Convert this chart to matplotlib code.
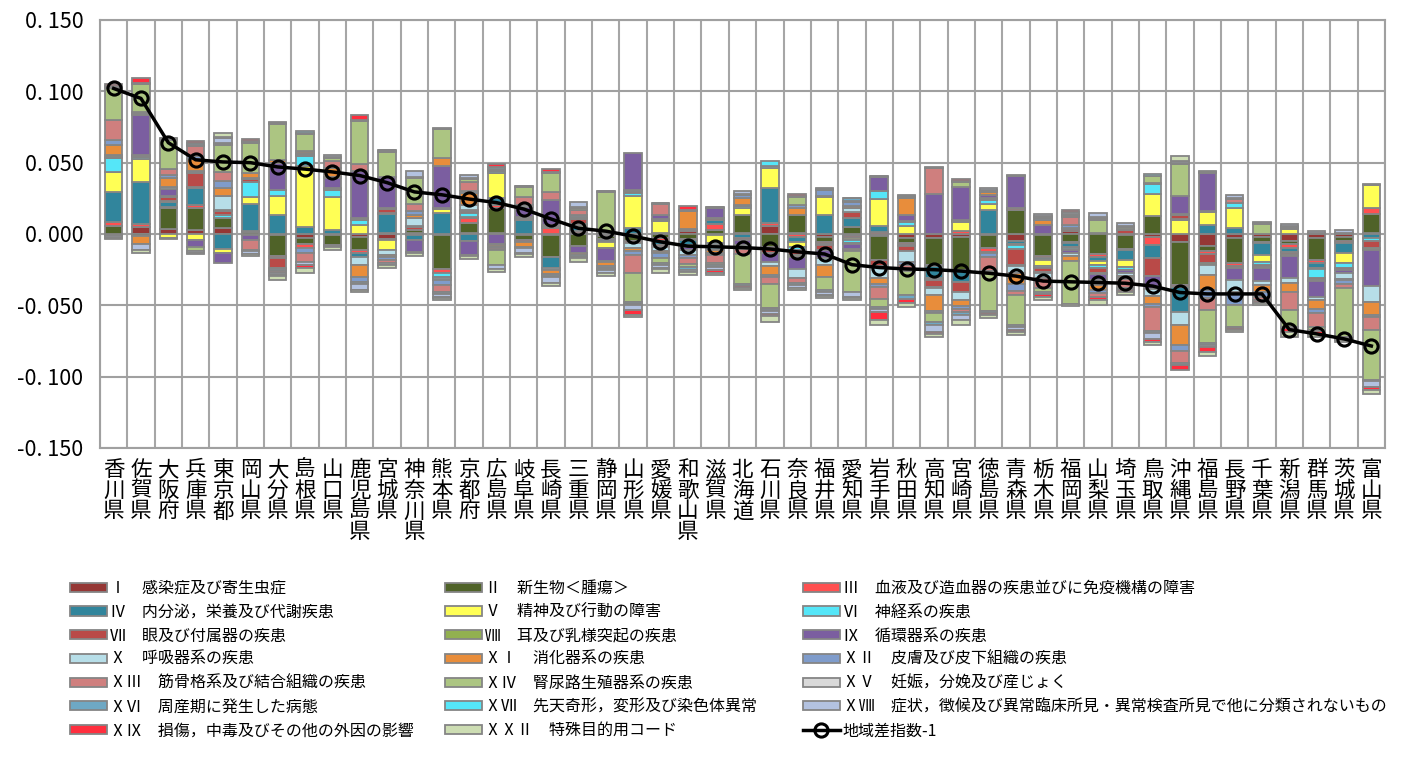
import numpy as np
import matplotlib.pyplot as plt
from matplotlib.ticker import FuncFormatter

plt.rcParams['font.family'] = ['Noto Sans CJK JP', 'DejaVu Sans']

prefs = ['香川県', '佐賀県', '大阪府', '兵庫県', '東京都', '岡山県', '大分県', '島根県',
         '山口県', '鹿児島県', '宮城県', '神奈川県', '熊本県', '京都府', '広島県', '岐阜県',
         '長崎県', '三重県', '静岡県', '山形県', '愛媛県', '和歌山県', '滋賀県', '北海道',
         '石川県', '奈良県', '福井県', '愛知県', '岩手県', '秋田県', '高知県', '宮崎県',
         '徳島県', '青森県', '栃木県', '福岡県', '山梨県', '埼玉県', '鳥取県', '沖縄県',
         '福島県', '長野県', '千葉県', '新潟県', '群馬県', '茨城県', '富山県']

# 地域差指数-1 (x 0.001)
index_m1 = [102, 95, 64, 52, 50.5, 50, 47, 45.5, 43.5, 41, 36, 29.5, 27.5, 24.5, 22, 17.5,
            10.5, 4, 2, -1.5, -5.5, -8.5, -9, -9.5, -10.5, -12.5, -14, -21.5, -23.5, -24.5,
            -25, -26, -27.5, -29.5, -33, -33.5, -34, -34.5, -36.5, -41, -42, -42, -42,
            -67, -70, -73.5, -78.5]

# contributions by disease chapter (x 0.001)
c01 = [-0.5, 4.7, 3.5, 3, 4.5, -1, -1, -3, -1, -2, -3.5, 0.5, -1, 0.5, 0.5, -1, -1, 1, -1.5, -1,
       0.5, 2, -1, 1, 5.5, 0.5, -2, -1.5, -1.5, -3, -2.5, -2, -1, -5, -1, 2, 1, -1, -2, -5.5,
       -8.5, -3, -2, -5, -3, -2, 1]
c02 = [5.3, -1.5, 15, 15, 6.5, 1.5, -14.5, -4, -7, -9, 1, 2, -23.5, 7, 18, -3.5, -15, -8.5, -2,
       -4, -3, -3.5, 3, 12, -9, 13, -3.5, 5, -17, -3.5, -19, -23, -8.5, 17, -14.5, -5.5, -14,
       -9.5, 12.5, -30, -3.5, -17.5, -3.5, -2, -15, -3, 13]
c03 = [3, 2.5, 0.7, 2.2, 0.5, 0.5, -1, -3, -0.5, -2.5, -1, -1, -3, 4, 2, -1, 4.5, 1, -0.5, -1,
       -2, -1, 4, 0.5, 2.5, -2, -1.5, -1, 1.5, -1, -1, 2, -3, 1.5, -1, -1, -2, -1, -6, -1.5,
       -2, -2, -1, -3, -2, -1, 4.5]
c04 = [21, 29, 3.5, 12, -10.5, 19, 13, 5, 2.5, -2.5, 13, -3, 15, -5, 5, 10, -8, 3, -1.5, 4,
       -2.5, -3, 2.5, -3, 24, -3.5, 13.5, 6, 4, -1, -8, -8.5, 16.5, -2, -2, -2.5, -3, -6.5,
       -8.5, -18, 6.5, 4, -8, -2.5, -3.5, -7.5, -3]
c05 = [14.5, 16.5, -2.5, -4, -2.5, 5, 13.5, 42.5, 23.5, 6, -6.5, -0.5, 2.5, 0.5, 17.5, 0.5,
       0.5, 1, -4, 22.5, 8.5, -1, -5.5, 5, 14.5, -3.5, 12.5, -1.5, 19, 5.5, -1, 6.5, 4.5, -1,
       -4, -1, -3, -5, 15.5, 10, 9, 14, -5, 3.5, -1, -7, 15.5]
c06 = [9.3, 1, 0.5, 0.8, 2, 10.5, 4, 7, 5, 4, 0.5, 0.5, -2.5, 3, 1, 0.5, 0.5, 1, -0.3, 2, 0.5,
       -0.5, -1, 1, 1.5, -2, -1, -2.5, 5.5, 3, -1, 0.5, 2.5, -2.5, -1.5, -1.5, -2, -2.5, 7,
       0.5, 0.5, 4, -2, -1, -6, -3, -2]
c07 = [1, 1, 3, 10, 2.5, 2, -7, 0.5, 0.5, 0.5, 3, 2, -1, 1, 0.5, 0.5, 0.5, 3.5, -0.3, 1.5,
       -1.5, 1, 1.5, -1, -4, -4, -3.5, 4.5, -4, -3.5, -4.5, -7, 1, -11.5, -2.5, 1.5, -3.5, 2.5,
       -13, 3, -6.5, -1, -1.5, -1.5, -2, -1.5, -5]
c08 = [1, 0.5, 0.5, 0.5, 0.5, 0.5, 0.5, 0.5, 0.5, 0.5, 0.5, 0.5, 0.5, 0.5, 0.5, 0.5, 0.5, 0.5,
       0.5, 0.5, 1, 0.5, 0.5, 0.5, -0.5, -1, 0.5, -0.5, -0.5, 0.5, -0.5, 0.5, 0.5, -0.5, -0.5,
       0.5, -0.5, 1, 1, 0.5, -1.5, -0.5, -0.5, -0.5, -0.5, -0.5, -1]
c09 = [0.5, 28, 5, -5, -7, -3, 19, 0.5, 7.5, 33, 22, -8, 30, -9.5, -7, 7, 17, -5, -9, 26, 3,
       -2, 7, -3.5, -6, -8.5, -5, -3.5, 10, 4, 28, 23.5, 2.5, 22, 6, -2, -4, -2, -9, 12.5, 27,
       -8.5, -9.5, -15.5, -11.5, -2, -25.5]
c10 = [-1, 0.7, 1.5, 0.5, 10, -0.5, -1, 0.5, 0.5, -6, -4, 6, -1.5, 4, -0.5, 1, -1, 1, -0.5, -4,
       -3, -4, -4, -3, -3, -6, -5, 3, -8, -7.5, -5, -5.5, -1, -4.5, -3.5, -2, -4, -2, -5, -9,
       -6.5, -8.5, -2.5, -3.5, -1.5, -4, -11]
c11 = [6.5, -5.5, 6, 8.5, 6, 3.5, 2, 1.5, 6, -8, -1, 2, 5.5, 8, -1.5, -3.5, -3, -1.5, -2.5, -2,
       -1.5, 12.5, -2, 5, -6.5, 5, -8.5, 1, -4, 12.5, -11.5, -4.5, 2, -8, 4, -3.5, -3.5, -1,
       -5.5, -14, -10.5, -1, -5.5, -6, -6.5, -1, -9.5]
c12 = [3.5, 0.7, 2, 2, 5, 0.5, -1.5, -3, 0.5, -3.5, -2.5, 2.5, -3.5, 1.5, -0.5, 0.5, -1, 1, -2,
       -2.5, -3.5, -2, -1, 2.5, -1, 2, 4, 3, -2, -2.5, -1.5, -2, -2.5, -5, 1.5, 2, -2, -1, -2.5,
       -4, -6, -8, -3, 1, -3, -2.5, -1.5]
c13 = [14, 1, 4.5, 7, 6, -6.5, -1, -6.5, 5, 5, -2, 5, -5, 6.5, -1.5, 5.5, 6, 3.5, -0.5, -13,
       7.5, -4, -5.5, -3.5, -5, -4, 0.5, -1.5, -8.5, -4, 18, -2, -10, -2.5, -7, 6, -3, -6,
       -16.5, -8.5, -8.5, 2.5, -2, -12.5, -9.5, -3, -9]
c14 = [23, 19.5, 20, -3, 19, 21, 25, 12, 1.5, 30, 17.5, 18, 20, 2, -11, 7, 13.5, 2, 29, -20,
       -3, -2, -2, -21, -17, 5.5, -9, -28.5, -6, -17, -6, 3.5, -28, -21, -3, -30, 9, 1.5, 4.5,
       22.5, -23, -15, 7, -12, -2, -34, -34.5]
c15 = [0.2, 0.3, 0.2, 1, 0.5, 0.5, 0.5, 0.5, 0.3, 0.3, 0.3, 0.3, 0.3, 0.3, 0.3, 0.3, 0.3, 0.3,
       0.3, -0.5, 0.5, 0.3, 0.3, 0.3, -0.5, 0.5, 0.5, 0.5, 0.5, 0.5, 0.5, 0.5, 0.5, 0.5, 0.5,
       0.5, 0.5, 0.3, 0.5, 0.5, 0.5, 0.5, 0.5, 0.5, 0.5, 0.5, 0.5]
c16 = [0.3, 0.3, 0.3, 1, 0.5, -1, 0.5, 0.5, 0.5, -1.5, 0.5, 0.5, -1, 0.5, 0.5, -1, -1, -1, -0.5,
       -1, -1.5, -2, -1, -1.5, -1.5, -1.5, -1.5, 2, -1, -2.5, -2, -2, -1.5, -2, -1.5, 1, 1,
       -1.5, -1.5, -1.5, -1.5, -1, -1, -1, -1, -1, -1]
c17 = [0.3, 0.3, 0.3, 0.5, 0.5, 0.5, 0.5, 1.5, 0.3, 0.3, 0.3, 0.3, 0.3, 0.3, 1, 0.3, 0.3, 0.3,
       0.3, -0.5, 0.5, 0.3, 0.3, 0.3, 3, 0.3, 0.5, 0.5, 0.5, 0.5, 0.5, 0.3, 0.5, 0.5, 0.5, 0.5,
       0.5, 0.3, 1, 0.5, 0.5, 0.5, 0.3, 0.5, 0.5, 0.5, 0.5]
c18 = [-1, -4.5, 0.5, -1, 3.5, -2, -1.5, -2, 1, -4.5, -1.5, 4, -2, 1.5, -2.5, -3, -4, 3.5, -2,
       -3.5, -2, -1.5, -2.5, 2, -2, -2, -2, -3.5, -2.5, 1, -5.5, -4, 1.5, -1.5, 1.5, 1.5, 2.5,
       2, -4, 1.5, -1.5, 1.5, 0.5, 1.5, 1, 1.5, -4.5]
c19 = [1.5, 3.5, 0.3, 1.5, 0.5, 1.5, -1, -2, -0.5, 3.5, 0.5, -1, -1, -1, 2, -1, 2, -1, -0.5,
       -3.5, -1, 3, -1.5, -1, -1.5, 1, -1, -1, -5, -3, -1, 1.5, -1.5, -1.5, -2.5, 1.5, -2,
       -1.5, -2, -3.5, -3.5, -1, -1.5, -3, -2, -1, -2]
c22 = [-1, -1.5, -1, -1, 2.5, -1.5, -3, -4, -2, -1.5, -2, -2, -1, -2, -2, -2, -2.5, -2.5, -1.5,
       -1.5, -2.5, -2, -2, -2, -4, -1.5, -1.5, -1.5, -4, -2.5, -2.5, -3, -2, -2, -1.5, -1.5,
       -3, -2, -2.5, 3.5, -2.5, -2, -1.5, -3, -2, -2, -2.5]

series = [c01, c02, c03, c04, c05, c06, c07, c08, c09, c10,
          c11, c12, c13, c14, c15, c16, c17, c18, c19, c22]

labels = ['Ⅰ　感染症及び寄生虫症', 'Ⅱ　新生物＜腫瘍＞',
          'Ⅲ　血液及び造血器の疾患並びに免疫機構の障害',
          'Ⅳ　内分泌，栄養及び代謝疾患', 'Ⅴ　精神及び行動の障害', 'Ⅵ　神経系の疾患',
          'Ⅶ　眼及び付属器の疾患', 'Ⅷ　耳及び乳様突起の疾患', 'Ⅸ　循環器系の疾患',
          'Ⅹ　呼吸器系の疾患', 'ⅩⅠ　消化器系の疾患', 'ⅩⅡ　皮膚及び皮下組織の疾患',
          'ⅩⅢ　筋骨格系及び結合組織の疾患', 'ⅩⅣ　腎尿路生殖器系の疾患',
          'ⅩⅤ　妊娠，分娩及び産じょく', 'ⅩⅥ　周産期に発生した病態',
          'ⅩⅦ　先天奇形，変形及び染色体異常',
          'ⅩⅧ　症状，徴候及び異常臨床所見・異常検査所見で他に分類されないもの',
          'ⅩⅨ　損傷，中毒及びその他の外因の影響', 'ⅩⅩⅡ　特殊目的用コード']

colors = ['#953735', '#4f6228', '#ff5050', '#31859c', '#ffff55', '#55e6f8', '#b94a48',
          '#92b050', '#7b5ea0', '#b7dee8', '#e88d3b', '#7f9ccb', '#cf7f7e', '#acc582',
          '#d9d9d9', '#6ea8c4', '#55e6f8', '#b3c2e0', '#ff2e3e', '#cdddb3']

W, H = 1405, 758
fig = plt.figure(figsize=(W / 100, H / 100), dpi=100)
ax = fig.add_axes([100 / W, 1 - 448 / H, 1285 / W, 428 / H])

x = np.arange(len(prefs))
pos_base = np.zeros(len(prefs))
neg_base = np.zeros(len(prefs))
bar_handles = []
for vals, col in zip(series, colors):
    v = np.array(vals) / 1000
    bottom = np.where(v >= 0, pos_base, neg_base)
    b = ax.bar(x, v, 0.64, bottom=bottom, color=col, edgecolor='#858585',
               linewidth=1.3, zorder=2)
    pos_base += np.clip(v, 0, None)
    neg_base += np.clip(v, None, 0)
    bar_handles.append(b)

line, = ax.plot(x, np.array(index_m1) / 1000, color='black', lw=2.5, marker='o', ms=9.5,
                mfc='none', mec='black', mew=2.2, zorder=5)

ax.set_xlim(-0.5, len(prefs) - 0.5)
ax.set_ylim(-0.15, 0.15)
ax.set_yticks(np.arange(-0.15, 0.151, 0.05))
ax.yaxis.set_major_formatter(FuncFormatter(lambda v, p: f'{v:.3f}'.replace('.', '. ')))
ax.set_xticks(x)
ax.set_xticklabels(['\n'.join(p) for p in prefs], fontsize=15.5, linespacing=0.92)
ax.set_xticks(np.arange(-0.5, len(prefs), 1), minor=True)
ax.grid(True, axis='y', color='#a0a0a0', lw=1.5, zorder=0)
ax.grid(True, axis='x', which='minor', color='#a6a6a6', lw=1.5, zorder=0)
ax.set_axisbelow(True)
ax.tick_params(axis='both', which='both', length=0)
ax.tick_params(axis='y', labelsize=15.5, pad=12)
ax.tick_params(axis='x', pad=8)
for s in ax.spines.values():
    s.set_color('#a0a0a0')
    s.set_linewidth(1.5)

all_h = bar_handles + [line]
all_l = labels + ['地域差指数-1']
col_x = [70, 445, 803]
for k in range(3):
    idx = list(range(k, 21, 3))
    fig.legend([all_h[i] for i in idx], [all_l[i] for i in idx], loc='upper left',
               bbox_to_anchor=(col_x[k] / W, 1 - 580 / H), frameon=False, ncol=1,
               borderpad=0, borderaxespad=0, handlelength=2.3, handleheight=0.5,
               handletextpad=0.2, labelspacing=0.42, fontsize=11.5)

fig.savefig('out.png', dpi=100)
